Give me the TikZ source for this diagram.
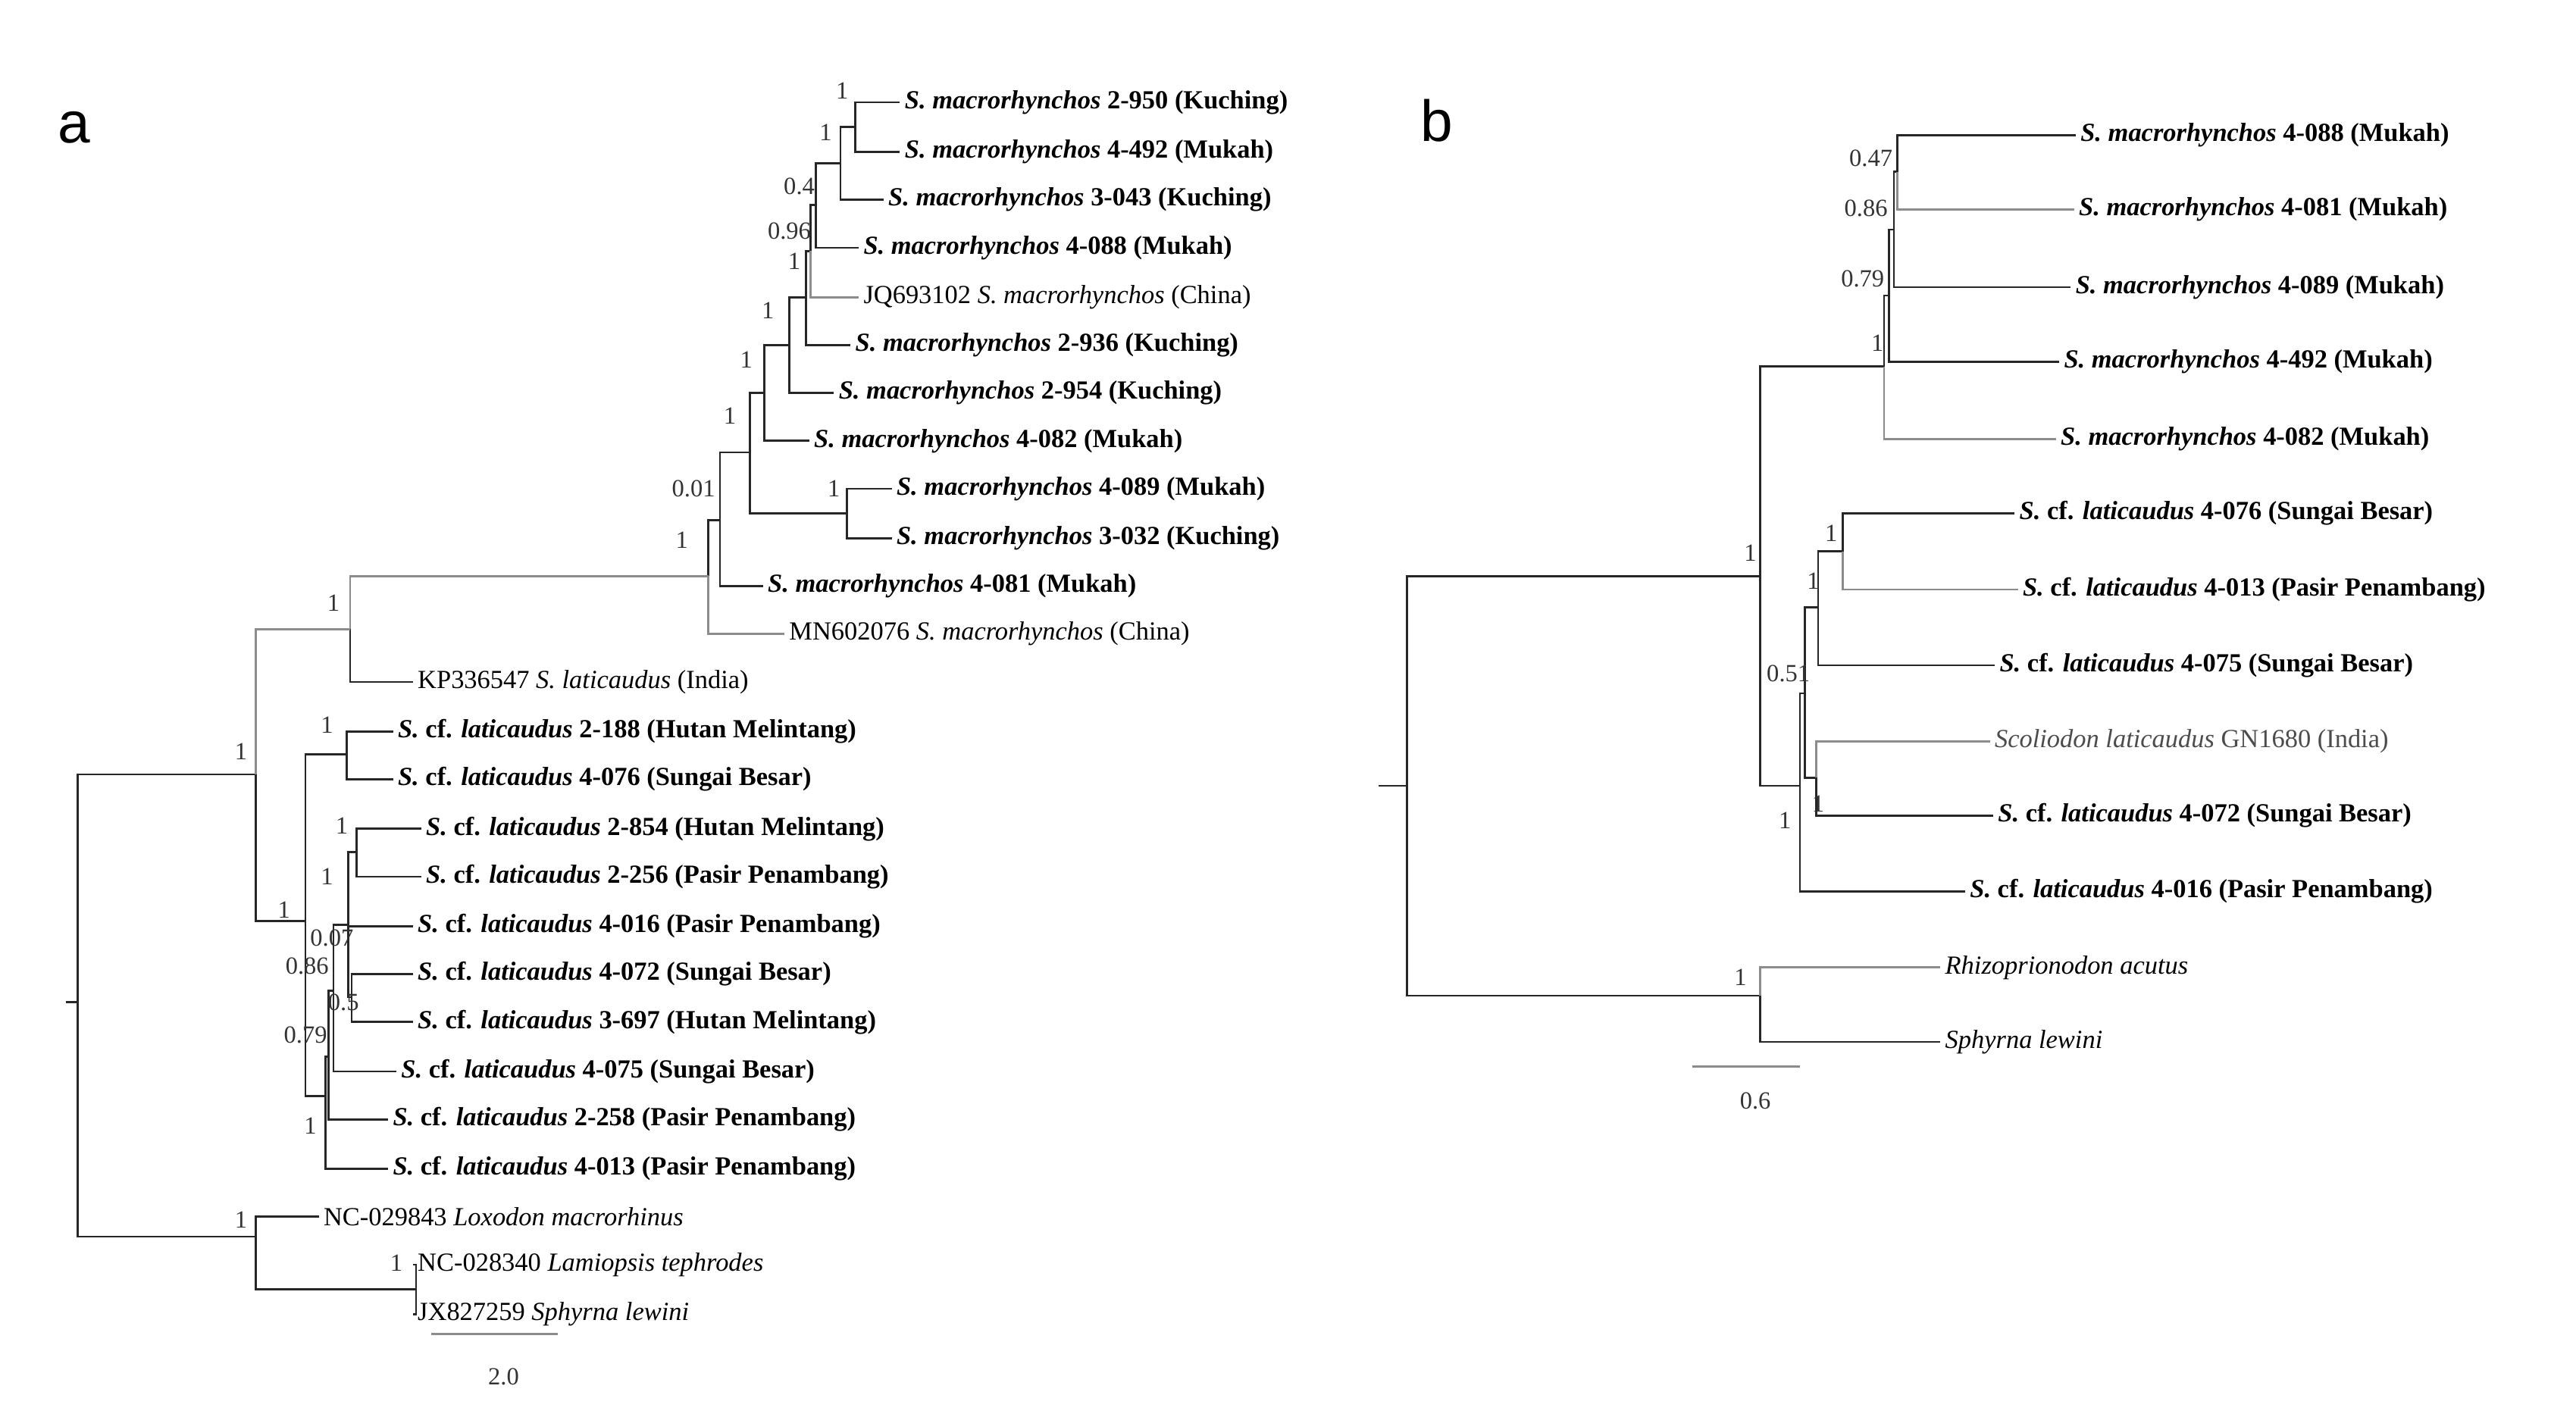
\documentclass[tikz,border=0pt]{standalone}
\usepackage{fontspec}
\setmainfont{Liberation Serif}
\newfontfamily\panelfont{Liberation Sans}
\newcommand{\smac}[1]{\textbf{\textit{S. macrorhynchos} #1}}
\newcommand{\slat}[1]{\textbf{\textit{S.} cf. \textit{laticaudus} #1}}
\tikzset{
  br/.style={line width=0.7pt, black!85},
  grb/.style={line width=0.7pt, black!45},
  tip/.style={anchor=west, inner sep=1.5pt, font=\fontsize{9}{10}\selectfont},
  sup/.style={inner sep=0pt, font=\fontsize{8.5}{10}\selectfont, black!80},
  panel/.style={font=\panelfont\fontsize{20}{22}\selectfont}
}
% a leaf: name, x, y, text
\newcommand{\leaf}[4]{\coordinate (#1) at (#2,#3); \node[tip] (#1-t) at (#1) {#4};}

\begin{document}
\begin{tikzpicture}[x=0.02cm, y=-0.02cm]
\useasboundingbox (0,0) rectangle (1560,860);

% Panel a
\node[panel] (pa) at (45,77) {a};

% leaves
\leaf{a950}{545}{62}{\smac{2-950 (Kuching)}}
\leaf{a492}{545}{92}{\smac{4-492 (Mukah)}}
\leaf{a043}{535}{121}{\smac{3-043 (Kuching)}}
\leaf{a088}{520}{150}{\smac{4-088 (Mukah)}}
\leaf{ajq}{520}{180}{JQ693102 \textit{S. macrorhynchos} (China)}
\leaf{a936}{515}{209}{\smac{2-936 (Kuching)}}
\leaf{a954}{505}{238}{\smac{2-954 (Kuching)}}
\leaf{a082}{490}{267}{\smac{4-082 (Mukah)}}
\leaf{a089}{540}{296}{\smac{4-089 (Mukah)}}
\leaf{a032}{540}{326}{\smac{3-032 (Kuching)}}
\leaf{a081}{462}{355}{\smac{4-081 (Mukah)}}
\leaf{amn}{475}{384}{MN602076 \textit{S. macrorhynchos} (China)}
\leaf{akp}{250}{413}{KP336547 \textit{S. laticaudus} (India)}
\leaf{a188}{238}{443}{\slat{2-188 (Hutan Melintang)}}
\leaf{a076}{238}{472}{\slat{4-076 (Sungai Besar)}}
\leaf{a854}{255}{502}{\slat{2-854 (Hutan Melintang)}}
\leaf{a256}{255}{531}{\slat{2-256 (Pasir Penambang)}}
\leaf{a016}{250}{561}{\slat{4-016 (Pasir Penambang)}}
\leaf{a072}{250}{590}{\slat{4-072 (Sungai Besar)}}
\leaf{a697}{250}{619}{\slat{3-697 (Hutan Melintang)}}
\leaf{a075}{240}{649}{\slat{4-075 (Sungai Besar)}}
\leaf{a258}{235}{678}{\slat{2-258 (Pasir Penambang)}}
\leaf{a013}{235}{708}{\slat{4-013 (Pasir Penambang)}}
\leaf{anc1}{193}{737}{NC-029843 \textit{Loxodon macrorhinus}}
\leaf{anc2}{250}{766}{NC-028340 \textit{Lamiopsis tephrodes}}
\leaf{ajx}{250}{796}{JX827259 \textit{Sphyrna lewini}}

% internal nodes
\coordinate (n1) at (518,77);
\coordinate (n2) at (509,99);
\coordinate (n3) at (494,124);
\coordinate (n4) at (491,152);
\coordinate (n5) at (488,180);
\coordinate (n6) at (478,209);
\coordinate (n7) at (463,238);
\coordinate (n8) at (513,311);
\coordinate (n9) at (454,274);
\coordinate (n10) at (436,315);
\coordinate (n11) at (429,349);
\coordinate (n12) at (212,381);
\coordinate (n13) at (210,457);
\coordinate (n14) at (216,516);
\coordinate (n15a) at (213,604);
\coordinate (n15) at (211,560);
\coordinate (n16) at (202,600);
\coordinate (n17) at (199,640);
\coordinate (n18) at (197,664);
\coordinate (n19) at (185,558);
\coordinate (n20) at (155,469);
\coordinate (n22) at (155,749);
\coordinate (n23) at (252,781);
\coordinate (n21) at (47,607);
\coordinate (ra) at (40,607);

\foreach \p/\c in {n1/a950, n1/a492, n2/n1, n2/a043, n3/n2, n3/a088, n4/n3,
  n5/n4, n5/a936, n6/n5, n6/a954, n7/n6, n7/a082, n8/a089, n8/a032,
  n9/n7, n9/n8, n10/n9, n10/a081, n11/n10, n12/akp, n13/a188, n13/a076,
  n14/a854, n14/a256, n15/n14, n15/a016, n15/n15a, n15a/a072, n15a/a697,
  n16/n15, n16/a075, n17/n16, n17/a258, n18/n17, n18/a013, n19/n13, n19/n18,
  n20/n19, n21/n20, n21/n22, n22/anc1, n22/n23, n23/anc2, n23/ajx}
  \draw[br] (\p) |- (\c);
\draw[grb] (n4) |- (ajq);
\draw[grb] (n11) |- (amn);
\draw[grb] (n12) |- (n11);
\draw[grb] (n20) |- (n12);
\draw[br] (ra) -- (n21);

% support values
\node[sup] at (510,55) {1};
\node[sup] at (500,80) {1};
\node[sup] at (484,113) {0.4};
\node[sup] at (478,140) {0.96};
\node[sup] at (481,158) {1};
\node[sup] at (465,188) {1};
\node[sup] at (452,218) {1};
\node[sup] at (442,252) {1};
\node[sup] at (505,296) {1};
\node[sup] at (420,296) {0.01};
\node[sup] at (413,327) {1};
\node[sup] at (202,365) {1};
\node[sup] at (198,439) {1};
\node[sup] at (207,500) {1};
\node[sup] at (198,531) {1};
\node[sup] at (146,455) {1};
\node[sup] at (172,551) {1};
\node[sup] at (201,568) {0.07};
\node[sup] at (186,585) {0.86};
\node[sup] at (208,607) {0.5};
\node[sup] at (185,627) {0.79};
\node[sup] at (188,682) {1};
\node[sup] at (146,739) {1};
\node[sup] at (240,765) {1};

% scale bar
\coordinate (sa1) at (261,808);
\coordinate (sa2) at (338,808);
\draw[grb] (sa1) -- (sa2);
\node[sup] (sal) at (305,834) {2.0};

% Panel b
\node[panel] (pb) at (870,73) {b};

\leaf{b088}{1257}{82}{\smac{4-088 (Mukah)}}
\leaf{b081}{1256}{127}{\smac{4-081 (Mukah)}}
\leaf{b089}{1254}{174}{\smac{4-089 (Mukah)}}
\leaf{b492}{1247}{219}{\smac{4-492 (Mukah)}}
\leaf{b082}{1245}{266}{\smac{4-082 (Mukah)}}
\leaf{b076}{1220}{311}{\slat{4-076 (Sungai Besar)}}
\leaf{b013}{1222}{357}{\slat{4-013 (Pasir Penambang)}}
\leaf{b075}{1208}{403}{\slat{4-075 (Sungai Besar)}}
\leaf{bsc}{1205}{449}{\color{black!70}\textit{Scoliodon laticaudus} GN1680 (India)}
\leaf{b072}{1207}{494}{\slat{4-072 (Sungai Besar)}}
\leaf{b016}{1190}{540}{\slat{4-016 (Pasir Penambang)}}
\leaf{brh}{1175}{586}{\textit{Rhizoprionodon acutus}}
\leaf{bsp}{1175}{631}{\textit{Sphyrna lewini}}

\coordinate (m1) at (1149,104);
\coordinate (m2) at (1147,139);
\coordinate (m3) at (1144,179);
\coordinate (m4) at (1141,222);
\coordinate (l1) at (1116,334);
\coordinate (l2) at (1101,368);
\coordinate (l3) at (1100,471);
\coordinate (l4) at (1093,420);
\coordinate (l5) at (1090,476);
\coordinate (ml) at (1066,349);
\coordinate (og) at (1066,603);
\coordinate (rb) at (852,476);
\coordinate (rs) at (835,476);

\foreach \p/\c in {m1/b088, m2/m1, m2/b089, m3/m2, m3/b492, m4/m3,
  l1/b076, l2/l1, l2/b075, l3/b072, l4/l2, l4/l3, l5/l4, l5/b016,
  ml/m4, ml/l5, rb/ml, rb/og, og/bsp}
  \draw[br] (\p) |- (\c);
\draw[grb] (m1) |- (b081);
\draw[grb] (m4) |- (b082);
\draw[grb] (l1) |- (b013);
\draw[grb] (l3) |- (bsc);
\draw[grb] (og) |- (brh);
\draw[br] (rs) -- (rb);

\node[sup] at (1133,96) {0.47};
\node[sup] at (1130,126) {0.86};
\node[sup] at (1128,169) {0.79};
\node[sup] at (1137,208) {1};
\node[sup] at (1109,323) {1};
\node[sup] at (1098,352) {1};
\node[sup] at (1083,408) {0.51};
\node[sup] at (1101,487) {1};
\node[sup] at (1081,497) {1};
\node[sup] at (1060,335) {1};
\node[sup] at (1054,592) {1};

\coordinate (sb1) at (1025,646);
\coordinate (sb2) at (1090,646);
\draw[grb] (sb1) -- (sb2);
\node[sup] (sbl) at (1063,667) {0.6};
\end{tikzpicture}
\end{document}
